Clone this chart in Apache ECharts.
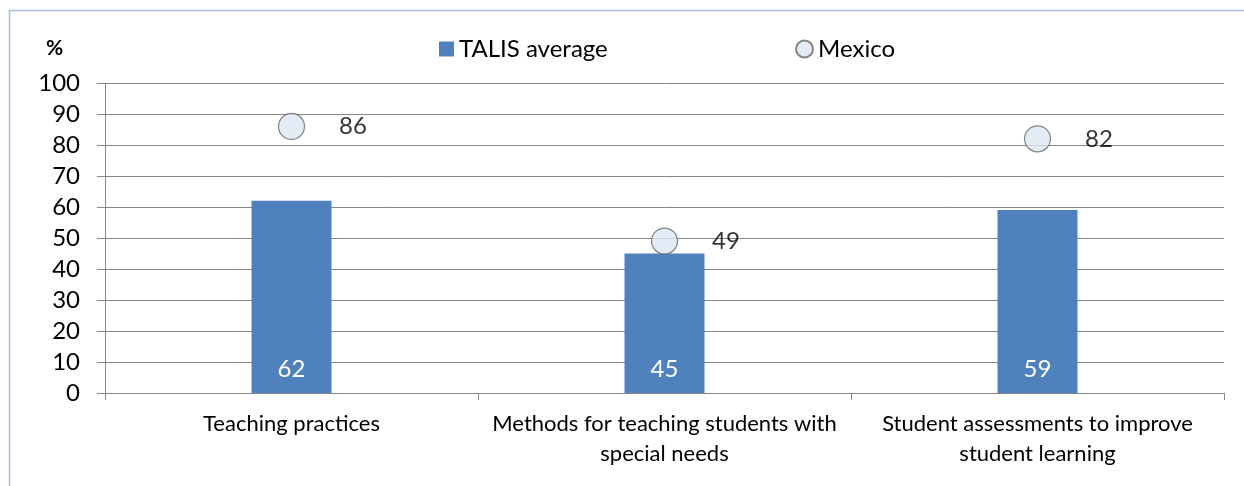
<!DOCTYPE html>
<html><head><meta charset="utf-8">
<script src="https://cdn.jsdelivr.net/npm/echarts@6/dist/echarts.min.js"></script>
<style>html,body{margin:0;padding:0;background:#fff}#c{width:1244px;height:486px}</style>
</head><body><div id="c"></div>
<script>
const categories = ['Teaching practices', 'Methods for teaching students with\nspecial needs', 'Student assessments to improve\nstudent learning'];
const talisAverage = [62, 45, 59];
const mexico = [86, 49, 82];
const yTicks = [0, 10, 20, 30, 40, 50, 60, 70, 80, 90, 100];

const FONT = 'Lato';
const chart = echarts.init(document.getElementById('c'));
chart.setOption({
  animation: false,
  backgroundColor: '#fff',
  textStyle: { fontFamily: FONT },
  graphic: [
    { type: 'rect', shape: { x: 9.5, y: 10.5, width: 1300, height: 600 }, style: { fill: 'none', stroke: '#a7bfdf', lineWidth: 1.5 } },
    { type: 'text', left: 46, top: 38, style: { text: '%', font: 'bold 21px ' + FONT, fill: '#000' } }
  ],
  legend: [
    { data: [{ name: 'TALIS average', icon: 'rect' }], left: 439, top: 37, padding: 0, itemWidth: 15, itemHeight: 15, itemGap: 7,
      textStyle: { fontSize: 24, color: '#000', fontFamily: FONT } },
    { data: [{ name: 'Mexico', icon: 'circle' }], left: 795, top: 37, padding: 0, itemWidth: 17, itemHeight: 17, itemGap: 5,
      textStyle: { fontSize: 24, color: '#000', fontFamily: FONT } }
  ],
  grid: { left: 105, right: 20, top: 83, bottom: 93 },
  xAxis: {
    type: 'category', data: categories,
    axisLine: { lineStyle: { color: '#868686', width: 1 } },
    axisTick: { show: true, length: 7, interval: 0, lineStyle: { color: '#868686' } },
    axisLabel: { fontSize: 22, color: '#000', margin: 16, lineHeight: 30, interval: 0, fontFamily: FONT }
  },
  yAxis: {
    type: 'value', min: 0, max: 100, interval: 10,
    axisLine: { show: true, lineStyle: { color: '#868686' } },
    axisTick: { show: true, length: 8, lineStyle: { color: '#868686' } },
    splitLine: { lineStyle: { color: '#868686', width: 1 } },
    axisLabel: { fontSize: 24, color: '#000', margin: 25, fontFamily: FONT,
      formatter: v => yTicks.includes(v) ? String(v) : '' }
  },
  series: [
    { name: 'TALIS average', type: 'bar', data: talisAverage, barWidth: 80,
      itemStyle: { color: '#4f81bd' },
      label: { show: true, position: 'insideBottom', distance: 12, color: '#fff', fontSize: 24, fontFamily: FONT } },
    { name: 'Mexico', type: 'scatter', data: mexico, symbol: 'circle', symbolSize: 26,
      itemStyle: { color: '#dce6f2', borderColor: '#666666', borderWidth: 1.2 },
      label: { show: true, position: 'right', distance: 34, color: '#000', fontSize: 24, fontFamily: FONT } }
  ]
});
</script></body></html>
